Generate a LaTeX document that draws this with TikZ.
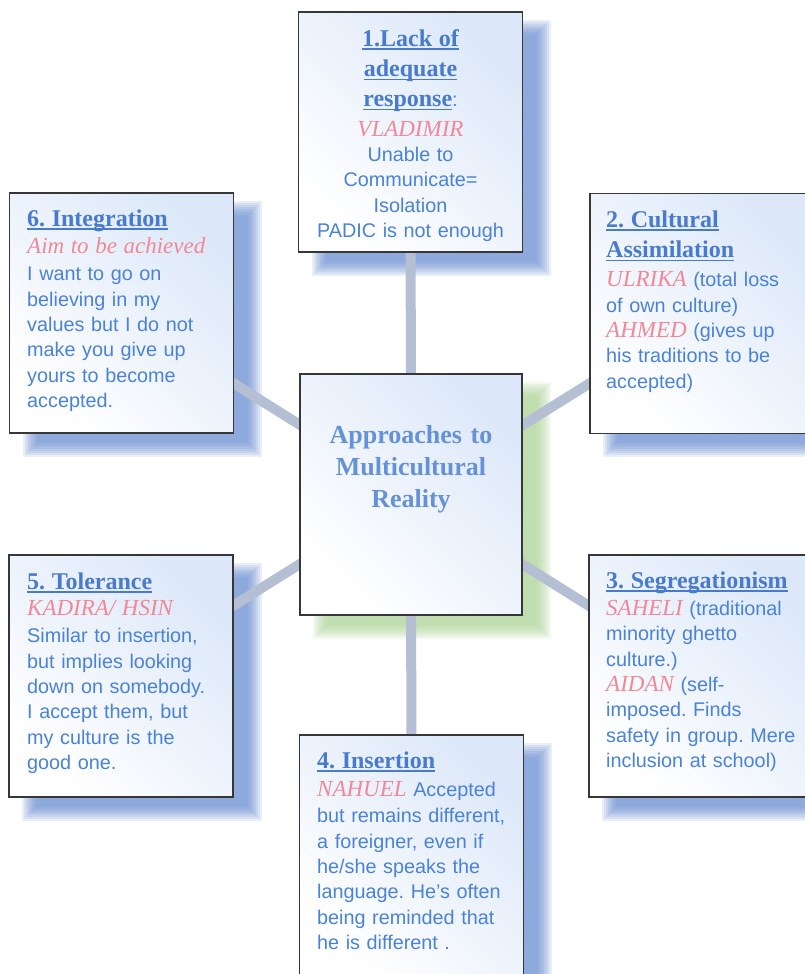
\documentclass[tikz,border=0pt]{standalone}
\usepackage{fontspec}
\setmainfont{Liberation Sans}
\newfontfamily\serifface{Liberation Serif}
\usetikzlibrary{calc}
\frenchspacing
\definecolor{txtblue}{RGB}{74,130,214}
\definecolor{hdblue}{RGB}{72,122,205}
\definecolor{ctrblue}{RGB}{100,145,215}
\definecolor{namepink}{RGB}{242,136,150}
\definecolor{shblue}{RGB}{90,130,205}
\definecolor{shgreen}{RGB}{165,208,140}
\definecolor{connc}{RGB}{180,191,212}
\definecolor{edgec}{RGB}{55,55,55}
\definecolor{tintblue}{RGB}{220,232,249}
\pgfdeclarelayer{bglayer}
\pgfdeclarelayer{shadowlayer}
\pgfdeclarelayer{connlayer}
\pgfsetlayers{bglayer,shadowlayer,connlayer,main}
\newcommand\ulh[1]{\leavevmode\setbox0\hbox{#1}\rlap{\rule[-3.5pt]{\wd0}{1.4pt}}\box0}
\newcommand\hd{\serifface\bfseries\fontsize{24}{25}\selectfont\color{hdblue}}
\newcommand\nm{\serifface\itshape\fontsize{23}{25}\selectfont\color{namepink}}
\newcommand\fst{\rule{0pt}{20pt}}
\newcommand\dropshadow[2]{%
  \foreach \xa/\ya/\xb/\yb in {14/9/28/23,16/11/26/21,18/13/24/19,20/15/22/17,22/17/20/15,24/19/18/13,26/21/16/11,28/23/14/9}{%
    \fill[#2, fill opacity=0.13] ($(#1.north west)+(\xa,\ya)$) rectangle ($(#1.south east)+(\xb,\yb)$);
  }}
\tikzset{
  boxn/.style={draw=edgec, line width=1.2pt, rectangle, inner sep=0pt,
    minimum width=224pt, minimum height=240pt,
    top color=tintblue, middle color=white, bottom color=white, shading angle=-45},
  txt/.style={inner sep=0pt, text width=#1, align=left,
    font=\fontsize{19.8}{25.3}\selectfont, text=txtblue, anchor=north west},
  txt/.default=215pt,
  conn/.style={line width=10pt, draw=connc},
}
\begin{document}
\begin{tikzpicture}[x=1pt,y=-1pt]
\useasboundingbox (0,0) rectangle (804,974);
\begin{pgfonlayer}{bglayer}
  \fill[white] (0,0) rectangle (804,974);
\end{pgfonlayer}

% boxes
\node[boxn] (b1) at (410.5,132) {};
\node[boxn] (b6) at (121.5,313) {};
\node[boxn] (b2) at (702,313.5) {};
\node[boxn, minimum width=222pt, minimum height=241pt] (bc) at (411,494.5) {};
\node[boxn, minimum height=242pt] (b5) at (121,676) {};
\node[boxn, minimum height=242pt] (b3) at (701,676) {};
\node[boxn] (b4) at (411.5,855) {};

% shadows
\begin{pgfonlayer}{shadowlayer}
  \dropshadow{b1}{shblue}
  \dropshadow{b6}{shblue}
  \dropshadow{b2}{shblue}
  \dropshadow{bc}{shgreen}
  \dropshadow{b5}{shblue}
  \dropshadow{b3}{shblue}
  \dropshadow{b4}{shblue}
\end{pgfonlayer}

% connectors
\begin{pgfonlayer}{connlayer}
  \draw[conn] (bc.center) -- (b1.center);
  \draw[conn] (bc.center) -- (b2.center);
  \draw[conn] (bc.center) -- (b3.center);
  \draw[conn] (bc.center) -- (b4.center);
  \draw[conn] (bc.center) -- (b5.center);
  \draw[conn] (bc.center) -- (b6.center);
\end{pgfonlayer}

% texts
\node[txt=224pt, align=center, anchor=north] (t1) at (410.5,26)
  {\fst{\hd\ulh{1.Lack of}}\\[5pt]{\hd\ulh{adequate}}\\[5pt]{\hd\ulh{response}}:\\[4pt]{\nm VLADIMIR}\\Unable to\\Communicate=\\Isolation\\PADIC is not enough};

\node[txt] (t6) at (27,206)
  {\fst{\hd\ulh{6. Integration}}\\[2pt]{\nm Aim to be achieved}\\[2pt]I want to go on\\believing in my\\values but I do not\\make you give up\\yours to become\\accepted.};

\node[txt=200pt] (t2) at (606,207)
  {\fst{\hd\ulh{2. Cultural}}\\[5pt]{\hd\ulh{Assimilation}}\\[4pt]{\nm ULRIKA} (total loss\\of own culture)\\{\nm AHMED} (gives up\\his traditions to be\\accepted)};

\node[txt=200pt] (t3) at (606,568)
  {\fst{\hd\ulh{3. Segregationism}}\\[2pt]{\nm SAHELI} (traditional\\minority ghetto\\culture.)\\{\nm AIDAN} (self-\\imposed. Finds\\safety in group. Mere\\inclusion at school)};

\node[txt] (t5) at (27,569)
  {\fst{\hd\ulh{5. Tolerance}}\\[1pt]{\nm KADIRA/ HSIN}\\[2pt]Similar to insertion,\\but implies looking\\down on somebody.\\I accept them, but\\my culture is the\\good one.};

\node[txt] (t4) at (317,748)
  {\fst{\hd\ulh{4. Insertion}}\\[3pt]{\nm NAHUEL} Accepted\\[1pt]but remains different,\\a foreigner, even if\\he/she speaks the\\language. He's often\\being reminded that\\he is different .};

\node[inner sep=0pt, text width=222pt, align=center, anchor=north,
  font=\serifface\bfseries\fontsize{26}{32}\selectfont, text=ctrblue] (tc) at (411,421)
  {\rule{0pt}{22pt}Approaches to\\Multicultural\\Reality};
\end{tikzpicture}
\end{document}
